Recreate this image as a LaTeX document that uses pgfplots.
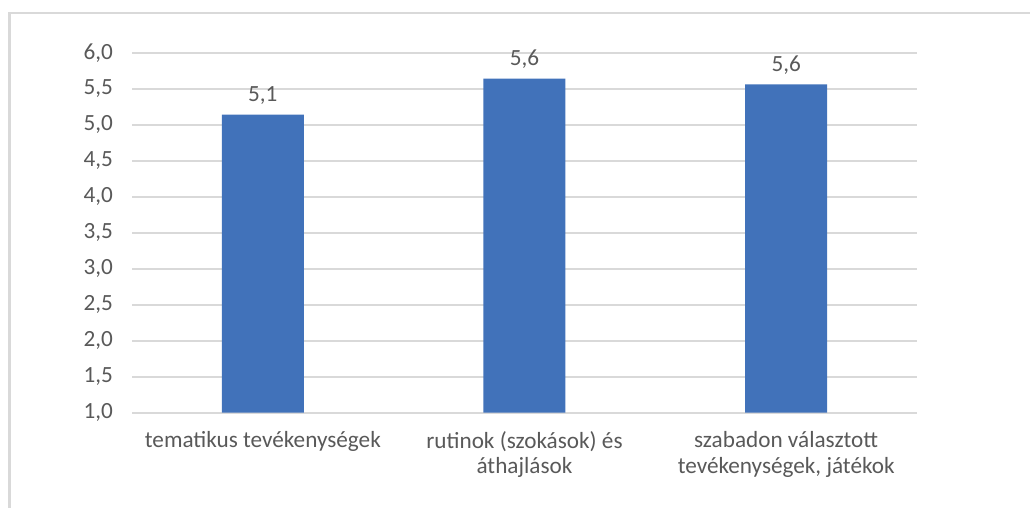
\documentclass[border=0pt]{standalone}
\usepackage{pgfplots}
\pgfplotsset{compat=1.18}
\usepackage{fontspec}
\setmainfont{Carlito}
\definecolor{barblue}{HTML}{4172BA}
\definecolor{txtgray}{HTML}{595959}
\definecolor{gridgray}{HTML}{D9D9D9}
\begin{document}
\begin{tikzpicture}
\path[use as bounding box] (0,0) rectangle (515pt,254pt);
\draw[gridgray, line width=1.3pt] (4.75pt,0) -- (4.75pt,247.5pt) -- (515pt,247.5pt);
\begin{axis}[
  at={(66pt,47.65pt)}, anchor=south west,
  width=392.5pt, height=180pt, scale only axis,
  xmin=-0.5, xmax=2.5, ymin=1, ymax=6,
  ytick={1,1.5,...,6.01},
  xtick={0,1,2},
  xticklabels={{tematikus tevékenységek},{rutinok (szokások) és\\áthajlások},{szabadon választott\\tevékenységek, játékok}},
  xticklabel style={align=center, yshift=-6pt, font=\fontsize{11.6}{12.6}\selectfont, text=txtgray},
  yticklabel style={xshift=-6pt, font=\fontsize{11.6}{12.6}\selectfont, text=txtgray},
  /pgf/number format/use comma,
  /pgf/number format/fixed,
  /pgf/number format/fixed zerofill,
  /pgf/number format/precision=1,
  /pgf/number format/assume math mode=true,
  ymajorgrids, major grid style={gridgray, line width=1pt},
  axis line style={draw=none},
  major tick length=0pt,
  clip=false,
  ybar, bar width=41pt, bar shift=0pt,
  nodes near coords,
  every node near coord/.append style={anchor=base, yshift=6.5pt, font=\fontsize{11.6}{12.6}\selectfont, text=txtgray},
]
\addplot[fill=barblue, draw=none] coordinates {(0,5.14) (1,5.64) (2,5.56)};
\end{axis}
\end{tikzpicture}
\end{document}
